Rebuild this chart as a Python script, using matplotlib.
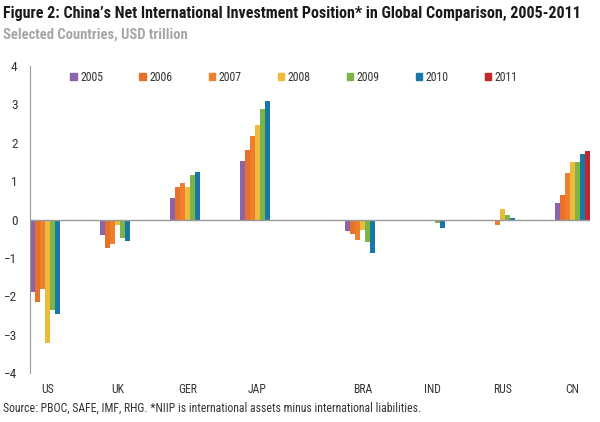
import numpy as np
import matplotlib
matplotlib.use("Agg")
import matplotlib.pyplot as plt
from matplotlib.patches import Patch

plt.rcParams['font.family'] = ['Roboto Condensed', 'Archivo Narrow', 'Liberation Sans Narrow', 'DejaVu Sans']

countries = ["US", "UK", "GER", "JAP", "BRA", "IND", "RUS", "CN"]
years = ["2005", "2006", "2007", "2008", "2009", "2010", "2011"]

# NIIP, USD trillion (None = no bar)
niip_2005 = [-1.90, -0.40, 0.55, 1.53, -0.30, -0.03, -0.01, 0.42]
niip_2006 = [-2.15, -0.73, 0.85, 1.81, -0.37, -0.03, -0.01, 0.65]
niip_2007 = [-1.80, -0.65, 0.94, 2.18, -0.52, -0.04, -0.15, 1.20]
niip_2008 = [-3.22, -0.13, 0.85, 2.47, -0.26, -0.05, 0.27, 1.50]
niip_2009 = [-2.35, -0.47, 1.17, 2.88, -0.58, -0.10, 0.11, 1.50]
niip_2010 = [-2.45, -0.55, 1.24, 3.08, -0.87, -0.21, 0.03, 1.70]
niip_2011 = [None, None, None, None, None, None, None, 1.79]

series = [niip_2005, niip_2006, niip_2007, niip_2008, niip_2009, niip_2010, niip_2011]
colors = ["#8e64a8", "#e8712a", "#ef7f2c", "#eeba3c", "#7cb547", "#1877a6", "#c3262d"]

# layout: group start positions (extra gap between JAP and BRA)
group_x = np.array([0, 1, 2, 3, 4.5, 5.5, 6.5, 7.5])
w = 1 / 14

fig = plt.figure(figsize=(6, 4.22), dpi=100)
ax = fig.add_axes([0.05, 0.116, 0.9333, 0.7275])

for i, vals in enumerate(series):
    xs, hs = [], []
    for gx, v in zip(group_x, vals):
        if v is not None:
            xs.append(gx + i * w + w / 2)
            hs.append(v)
    ax.bar(xs, hs, width=w, color=colors[i], linewidth=0)

ax.axhline(0, color="#9a9a9a", linewidth=1)
ax.set_xlim(0, 8)
ax.set_ylim(-4, 4)
ax.set_yticks(range(-4, 5))
ax.set_xticks(group_x + 3.5 * w)
ax.set_xticklabels(countries)
ax.tick_params(axis="y", length=0, labelsize=9.5, colors="#333333", pad=9)
ax.tick_params(axis="x", length=0, labelsize=8.5, colors="#333333", pad=7)
for s in ["top", "right", "bottom"]:
    ax.spines[s].set_visible(False)
ax.spines["left"].set_color("#9a9a9a")

handles = [Patch(color=c, label=y) for c, y in zip(colors, years)]
ax.legend(handles=handles, ncol=7, loc="center left", bbox_to_anchor=(0.072, 0.964),
          frameon=False, fontsize=8.5, handlelength=0.55, handleheight=0.55,
          handletextpad=0.3, columnspacing=3.05, borderaxespad=0, borderpad=0,
          labelcolor="#333333")

fig.text(0.005, 0.967, "Figure 2: China\u2019s Net International Investment Position* in Global Comparison, 2005-2011",
         fontsize=11.5, fontweight="bold", color="#1a1a1a", va="center", ha="left")
fig.text(0.005, 0.919, "Selected Countries, USD trillion",
         fontsize=10.5, fontweight="bold", color="#a6a6a6", va="center", ha="left")
fig.text(0.005, 0.033, "Source: PBOC, SAFE, IMF, RHG. *NIIP is international assets minus international liabilities.",
         fontsize=8.5, color="#333333", va="center", ha="left")

fig.savefig("out.png", dpi=100)
